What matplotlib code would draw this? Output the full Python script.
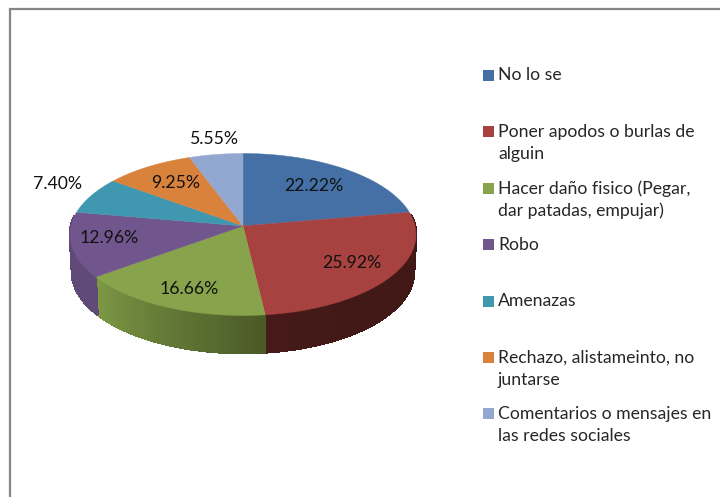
import numpy as np
import matplotlib
matplotlib.use("Agg")
import matplotlib.pyplot as plt
from matplotlib.colors import to_rgb
from matplotlib.patches import Polygon, Rectangle

categories = [
    "No lo se",
    "Poner apodos o burlas de\nalguin",
    "Hacer daño fisico (Pegar,\ndar patadas, empujar)",
    "Robo",
    "Amenazas",
    "Rechazo, alistameinto, no\njuntarse",
    "Comentarios o mensajes en\nlas redes sociales",
]
values = [22.22, 25.92, 16.66, 12.96, 7.40, 9.25, 5.55]
colors = ["#4470a6", "#a84240", "#87a34c", "#71568d", "#4097b0", "#d9823c", "#93a8d0"]
# side wall shade at the start and end of each slice's arc
side_start = ["#4470a6", "#3e1715", "#4a5a28", "#5f4a78", "#3a8298", "#b86f33", "#7c8fb0"]
side_end = ["#3e1715", "#451a18", "#7c9844", "#5f4a78", "#3a8298", "#b86f33", "#7c8fb0"]
side_start[0] = "#2f1210"
side_end[0] = "#2f1210"
label_xy = [(314, 186), (352, 263), (189, 289), (109, 238), (58, 184), (176, 183), (214.5, 139)]

cx, cy = 243, 234.5
rx, ry = 173, 81
depth = 37.5
rx_bottom = 171
tilt = 0.105  # how far the pie apex sits above the middle of the ellipse


def project(theta, rx_=rx, dy=0.0):
    # theta clockwise from the top, perspective keeps the rim an ellipse
    x, y = np.sin(theta), np.cos(theta)
    d = 1 + tilt * y
    px = cx + rx_ * np.sqrt(1 - tilt ** 2) * x / d
    py = cy - ry * (y + tilt) / d + dy
    return px, py


plt.rcParams["font.family"] = ["Lato", "DejaVu Sans"]
fig = plt.figure(figsize=(7.2, 4.97), dpi=100)
ax = fig.add_axes([0, 0, 1, 1])
ax.set_xlim(0, 720)
ax.set_ylim(497, 0)
ax.axis("off")

# chart frame, cropped on the right and bottom
ax.plot([10, 10, 720], [497, 9, 9], color="#868686", lw=1.6, solid_joinstyle="miter")

edges = np.cumsum([0] + values) / sum(values) * 2 * np.pi

# side wall first, slice by slice in small strips for the shading
for i in range(len(values)):
    ts = np.linspace(edges[i], edges[i + 1], 60)
    px, py = project(ts)
    for j in range(len(ts) - 1):
        # only the front of the rim is visible
        if np.cos(ts[j]) > 0.12 and np.cos(ts[j + 1]) > 0.12:
            continue
        f = j / (len(ts) - 2)
        c = (1 - f) * np.array(to_rgb(side_start[i])) + f * np.array(to_rgb(side_end[i]))
        bx0, by0 = project(ts[j], rx_bottom, depth)
        bx1, by1 = project(ts[j + 1], rx_bottom, depth)
        quad = [(px[j], py[j]), (px[j + 1], py[j + 1]), (bx1, by1), (bx0, by0)]
        ax.add_patch(Polygon(quad, closed=True, facecolor=c, edgecolor=c, lw=1.2, antialiased=False))

# top face
apex = cx, cy - ry * tilt
for i in range(len(values)):
    ts = np.linspace(edges[i], edges[i + 1], 80)
    px, py = project(ts)
    pts = [apex] + list(zip(px, py))
    ax.add_patch(Polygon(pts, closed=True, facecolor=colors[i], edgecolor=colors[i], lw=0.3))

# percentage labels
for v, (lx, ly) in zip(values, label_xy):
    ax.text(lx, ly, f"{v:.2f}%", ha="center", va="center", fontsize=12.7, color="#111111")

# legend
leg_y = [75.5, 131.5, 188.5, 244.5, 301.5, 357.5, 413.5]
box_y = [75, 131, 188, 244, 301, 357, 413]
for name, col, y, by in zip(categories, colors, leg_y, box_y):
    ax.add_patch(Rectangle((483, by - 5.5), 11, 11, facecolor=col, edgecolor="none"))
    lines = name.split("\n")
    for k, line in enumerate(lines):
        ax.text(498, y + k * 22.6, line, ha="left", va="center", fontsize=12.7, color="#262626")

fig.savefig("out.png", dpi=100)
